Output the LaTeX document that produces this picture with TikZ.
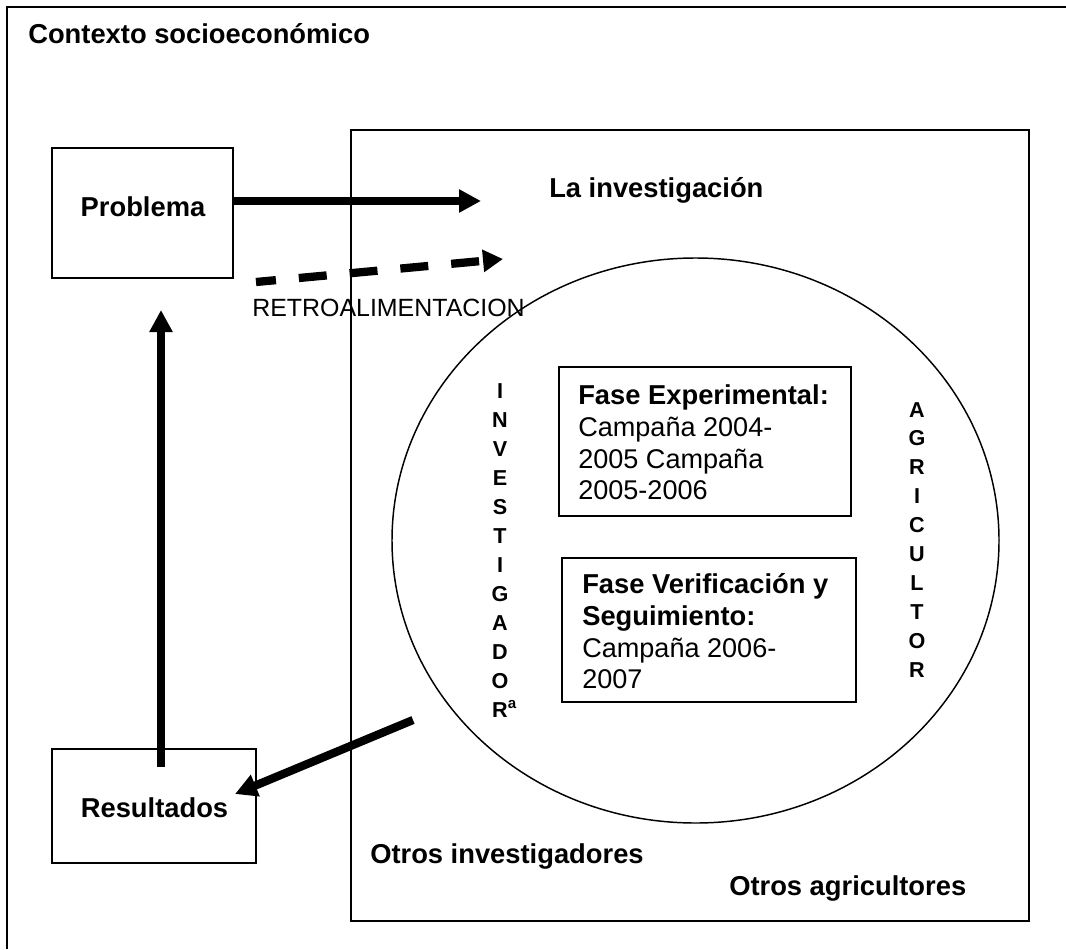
\documentclass[tikz,border=0pt]{standalone}
\usepackage{fontspec}
\setmainfont{Liberation Sans}
\usetikzlibrary{arrows.meta,shapes.geometric}
\begin{document}
\begin{tikzpicture}[x=0.75pt,y=-0.75pt,
  box/.style={draw=black, line width=1.1pt, rectangle, inner sep=0pt},
  boldtxt/.style={font=\fontsize{20.5}{23.6}\selectfont\bfseries, inner sep=0pt},
  regtxt/.style={font=\fontsize{20.3}{23.6}\selectfont, inner sep=0pt},
  smalltxt/.style={font=\fontsize{18.7}{22}\selectfont, inner sep=0pt},
  vletter/.style={font=\fontsize{16.2}{18}\selectfont\bfseries, inner sep=0pt, anchor=base},
  bigarrow/.style={line width=6.2pt, -{Triangle[length=16.5pt,width=16.5pt]}},
]
\useasboundingbox (0,0) rectangle (1066,949);
% outer frame (extends past the right and bottom edges)
\draw[line width=1.4pt] (1066,7) -- (7,7) -- (7,949);
\node[boldtxt, anchor=base west] (ctx) at (28,44) {Contexto socioeconómico};

% boxes
\node[box, minimum width=135.75pt, minimum height=97.5pt] (prob) at (142.5,213) {};
\node[boldtxt, anchor=base] (probt) at (143,216) {Problema};
\node[box, minimum width=153pt, minimum height=85.5pt] (res) at (154,806) {};
\node[boldtxt, anchor=base] (rest) at (154.5,817) {Resultados};

% research frame and ellipse
\node[box, minimum width=508.5pt, minimum height=593.25pt] (inv) at (690,525.5) {};
\node[draw=black, line width=1.1pt, ellipse, inner sep=0pt,
      minimum width=455.25pt, minimum height=423.75pt] (circ) at (695.5,540.5) {};
\node[boldtxt, anchor=base west] (lainv) at (549,197) {La investigación};
\node[boldtxt, anchor=base west] (otinv) at (370,863) {Otros investigadores};
\node[boldtxt, anchor=base west] (otagr) at (729,895) {Otros agricultores};

% phase boxes
\node[box, minimum width=219pt, minimum height=111.75pt] (fexp) at (705,441.5) {};
\node[boldtxt, anchor=base west] (fexp1) at (578,404) {Fase Experimental:};
\node[regtxt, anchor=base west] (fexp2) at (578,436) {Campaña 2004-};
\node[regtxt, anchor=base west] (fexp3) at (578,468) {2005 Campaña};
\node[regtxt, anchor=base west] (fexp4) at (578,499) {2005-2006};

\node[box, minimum width=220.5pt, minimum height=108pt] (fver) at (709,630) {};
\node[boldtxt, anchor=base west] (fver1) at (582,593) {Fase Verificación y};
\node[boldtxt, anchor=base west] (fver2) at (582,625) {Seguimiento:};
\node[regtxt, anchor=base west] (fver3) at (582,657) {Campaña 2006-};
\node[regtxt, anchor=base west] (fver4) at (582,688) {2007};

% vertical words
\foreach \l [count=\i from 0] in {I,N,V,E,S,T,I,G,A,D,O}
  \node[vletter] (invl\i) at (500,398+29*\i) {\l};
\node[vletter] (invl11) at (500,717) {R\rlap{\textsuperscript{a}}};
\foreach \l [count=\i from 0] in {A,G,R,I,C,U,L,T,O,R}
  \node[vletter] (agrl\i) at (917,417+28.9*\i) {\l};

% RETROALIMENTACION label
\node[smalltxt, anchor=base west] (retro) at (252,316) {RETROALIMENTACION};

% connectors
\coordinate (probtip) at (481,201);
\draw[bigarrow] (prob.east |- probtip) -- (probtip);

\coordinate (dstart) at (256,282);
\coordinate (dtip) at (503,259);
\draw[line width=6.2pt, dash pattern=on 21pt off 17.25pt, dash phase=6pt,
      -{Triangle[length=15pt,width=16pt]}] (dstart) -- (dtip);

\coordinate (upstart) at (161,767);
\coordinate (uptip) at (161,310);
\draw[bigarrow] (upstart) -- (uptip);

\coordinate (dgstart) at (413,720);
\coordinate (dgtip) at (235,794);
\draw[bigarrow] (dgstart) -- (dgtip);
\end{tikzpicture}
\end{document}
